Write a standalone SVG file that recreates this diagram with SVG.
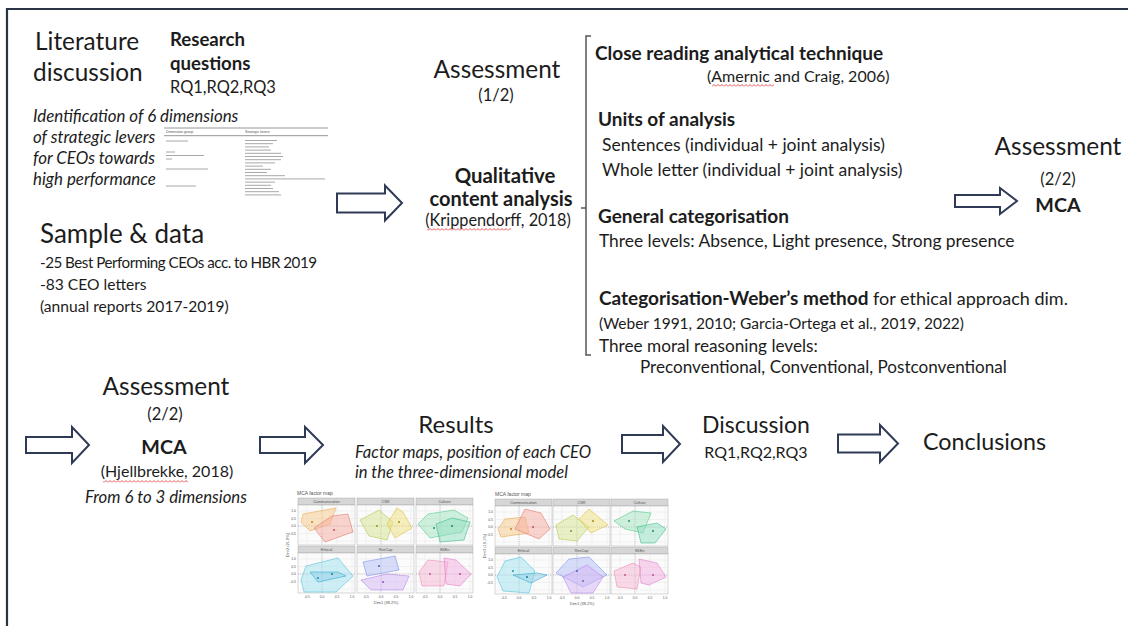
<svg xmlns="http://www.w3.org/2000/svg" width="1128" height="626" viewBox="0 0 1128 626">
<style>
.t{font-family:Lato,"Liberation Sans",sans-serif;fill:#1c1c1c}
.b{font-weight:bold}
.i{font-style:italic}
.m{text-anchor:middle}
.arr{fill:#fff;stroke:#2f3a56;stroke-width:2;stroke-linejoin:miter}
.sm{font-family:"Liberation Sans",Arial,sans-serif;fill:#555}
.pg{fill-opacity:.5;stroke-width:.5}
.co1{fill:#f7c98a;stroke:#e99c3c}.co2{fill:#f5a9a0;stroke:#e3675f}
.cs1{fill:#d6e38e;stroke:#a9bf3c}.cs2{fill:#f0df7c;stroke:#d4b82c}
.cu1{fill:#9fe4bb;stroke:#3fc27f}.cu2{fill:#8fe0c2;stroke:#22b27a}
.et1{fill:#a2e2f1;stroke:#38b9d8}.et2{fill:#8fcfe8;stroke:#1f9cc4}
.rc1{fill:#b4c0f6;stroke:#6a80e6}.rc2{fill:#d5b6f5;stroke:#aa74e6}
.sk1{fill:#f6b5d2;stroke:#e97aac}.sk2{fill:#f3addf;stroke:#dc6cc4}
</style>
<defs>
<pattern id="sq" width="4" height="3" patternUnits="userSpaceOnUse"><path d="M0,2.5 L2,0.5 L4,2.5" fill="none" stroke="#e02828" stroke-width="0.8"/></pattern>
<g id="pnl">
<rect x="0" y="0" width="57" height="7" fill="#d6d6d6" stroke="#a0a0a0" stroke-width=".4"/>
<rect x="0" y="7" width="57" height="40" fill="#fbfbfb" stroke="#a0a0a0" stroke-width=".4"/>
<path d="M9,7V47M39,7V47M54,7V47M0,13H57M0,20.5H57M0,35.5H57M0,43H57" stroke="#e4e4e4" stroke-width=".4"/>
<path d="M24,7V47M0,28H57" stroke="#666" stroke-width=".4" stroke-dasharray="1.2 1"/>
</g>
</defs>
<rect width="1128" height="626" fill="#fff"/>
<path d="M7,626V9H1128" fill="none" stroke="#2b3447" stroke-width="2.2"/>

<g id="literature">
<text class="t" x="35" y="50" font-size="24.4">Literature</text>
<text class="t" x="33" y="81" font-size="24.4">discussion</text>
</g>

<g id="research-questions">
<text class="t b" x="170" y="46" font-size="18.6">Research</text>
<text class="t b" x="170" y="70" font-size="18.6">questions</text>
<text class="t" x="170" y="93" font-size="16.4">RQ1,RQ2,RQ3</text>
</g>

<g id="dimensions">
<text class="t i" font-size="16.9"><tspan x="33" y="122">Identification of 6 dimensions</tspan><tspan x="33" y="143">of strategic levers</tspan><tspan x="33" y="164">for CEOs towards</tspan><tspan x="33" y="185">high performance</tspan></text>
<g id="lever-table">
<path d="M164,128H328M164,135.7H328" stroke="#8a8a8a" stroke-width=".9"/>
<text class="sm" x="166" y="133.3" font-size="3.6">Dimension group</text>
<text class="sm" x="245" y="133.3" font-size="3.6">Strategic levers</text>
<path d="M166,141h22M166,152h9M166,155.5h38M166,159h6M166,169h42M166,186h30" stroke="#a8a8a8" stroke-width="1"/>
<path d="M245,140.5h32M245,143.7h28M245,146.9h24M245,150.1h26M245,153.3h36M245,156.5h38M245,159.7h36M245,162.9h30M245,166.1h18M245,169.3h26M245,172.5h22M245,175.7h40M245,178.9h80M245,182.1h30M245,185.3h26M245,188.5h28M245,191.7h34M245,194.9h36" stroke="#a8a8a8" stroke-width="1"/>
</g>
</g>

<g id="sample-data">
<text class="t" x="40" y="243" font-size="26">Sample &amp; data</text>
<text class="t" x="40" y="268" font-size="15.2" textLength="277" lengthAdjust="spacing">-25 Best Performing CEOs acc. to HBR 2019</text>
<text class="t" font-size="15.6"><tspan x="40" y="290">-83 CEO letters</tspan><tspan x="40" y="312">(annual reports 2017-2019)</tspan></text>
</g>

<g id="assessment-1">
<text class="t m" x="497" y="78" font-size="24.4">Assessment</text>
<text class="t m" x="496" y="101" font-size="16.5">(1/2)</text>
<text class="t b m" x="505" y="183" font-size="20.4">Qualitative</text>
<text class="t b m" x="501" y="206" font-size="20">content analysis</text>
<text class="t m" x="498" y="226" font-size="16.3">(Krippendorff, 2018)</text>
<rect x="427" y="228" width="84" height="3" fill="url(#sq)"/>
</g>

<g id="method">
<path d="M591,36H586V355H591M586,208H581" fill="none" stroke="#555" stroke-width="1.5"/>
<text class="t b" x="595" y="60" font-size="19">Close reading analytical technique</text>
<text class="t" x="707" y="82" font-size="16">(Amernic and Craig, 2006)</text>
<rect x="712" y="84" width="62" height="3" fill="url(#sq)"/>
<text class="t b" x="598" y="126" font-size="19">Units of analysis</text>
<text class="t" font-size="17.5"><tspan x="602" y="151">Sentences (individual + joint analysis)</tspan><tspan x="602" y="176">Whole letter (individual + joint analysis)</tspan></text>
<text class="t b" x="598" y="223" font-size="19">General categorisation</text>
<text class="t" x="599" y="247" font-size="17.4">Three levels: Absence, Light presence, Strong presence</text>
<text class="t" x="599" y="305" font-size="18"><tspan class="b" font-size="19">Categorisation-Weber’s method</tspan> for ethical approach dim.</text>
<text class="t" x="599" y="329" font-size="15.5">(Weber 1991, 2010; Garcia-Ortega et al., 2019, 2022)</text>
<text class="t" x="599" y="352" font-size="17.2">Three moral reasoning levels:</text>
<text class="t" x="640" y="373" font-size="17.1">Preconventional, Conventional, Postconventional</text>
</g>

<g id="assessment-2-top">
<text class="t m" x="1058" y="155" font-size="24.4">Assessment</text>
<text class="t m" x="1058" y="185" font-size="16.5">(2/2)</text>
<text class="t b m" x="1058" y="212" font-size="19.7">MCA</text>
</g>

<g id="assessment-2-bottom">
<text class="t m" x="166" y="395" font-size="24.4">Assessment</text>
<text class="t m" x="165" y="420" font-size="16.5">(2/2)</text>
<text class="t b m" x="164" y="454" font-size="19.7">MCA</text>
<text class="t m" x="167" y="477" font-size="16">(Hjellbrekke, 2018)</text>
<rect x="103" y="480" width="85" height="3" fill="url(#sq)"/>
<text class="t i m" x="166" y="503" font-size="16.8">From 6 to 3 dimensions</text>
</g>

<g id="results">
<text class="t m" x="456" y="433" font-size="24">Results</text>
<text class="t i" font-size="16.6"><tspan x="355" y="458">Factor maps, position of each CEO</tspan><tspan x="355" y="478">in the three-dimensional model</tspan></text>
<g id="factor-map-1">
<text class="sm" x="297" y="495" font-size="5" fill="#333">MCA factor map</text>
<use href="#pnl" x="298" y="498"/><use href="#pnl" x="357" y="498"/><use href="#pnl" x="416" y="498"/>
<use href="#pnl" x="298" y="546"/><use href="#pnl" x="357" y="546"/><use href="#pnl" x="416" y="546"/>
<g class="sm" font-size="3.8" text-anchor="middle">
<text x="326.5" y="503.3">Communication</text><text x="385.5" y="503.3">CSR</text><text x="444.5" y="503.3">Culture</text>
<text x="326.5" y="551.3">Ethical</text><text x="385.5" y="551.3">ResCap</text><text x="444.5" y="551.3">SKEn</text>
</g>
<g transform="translate(298,498)"><polygon class="pg co1" points="3,24 5,16 38,10 32,26 12,33"/><polygon class="pg co2" points="16,30 34,18 50,16 55,34 27,44"/><circle cx="14" cy="24" r="1" fill="#c77b1e"/><circle cx="36" cy="32" r="1" fill="#c94a42"/></g>
<g transform="translate(357,498)"><polygon class="pg cs1" points="3,22 22,12 36,24 30,42 12,38"/><polygon class="pg cs2" points="30,26 40,10 46,14 55,30 38,40"/><circle cx="20" cy="28" r="1" fill="#7f9422"/><circle cx="42" cy="24" r="1" fill="#a48a12"/></g>
<g transform="translate(416,498)"><polygon class="pg cu1" points="2,26 12,16 38,12 52,20 46,34 14,40"/><polygon class="pg cu2" points="20,26 36,20 54,24 48,42 24,44"/><circle cx="18" cy="30" r="1" fill="#1f9a5a"/><circle cx="36" cy="28" r="1" fill="#128a5a"/></g>
<g transform="translate(298,546)"><polygon class="pg et1" points="3,34 8,20 40,12 55,30 38,46 6,46"/><polygon class="pg et2" points="12,26 40,26 48,30 20,36"/><circle cx="20" cy="32" r="1" fill="#1890b0"/><circle cx="34" cy="28" r="1" fill="#14789c"/></g>
<g transform="translate(357,546)"><polygon class="pg rc1" points="6,16 38,10 42,24 10,30"/><polygon class="pg rc2" points="4,34 30,28 52,30 46,44 14,44"/><circle cx="22" cy="20" r="1" fill="#4a5fc6"/><circle cx="26" cy="36" r="1" fill="#8a50c6"/></g>
<g transform="translate(416,546)"><polygon class="pg sk1" points="3,26 12,14 32,16 28,40 6,40"/><polygon class="pg sk2" points="28,12 40,14 55,28 44,40 30,38"/><circle cx="14" cy="28" r="1" fill="#c9508a"/><circle cx="44" cy="28" r="1" fill="#b8449e"/></g>
<g class="sm" font-size="3.5" text-anchor="end">
<text x="296" y="512.3">1.0</text><text x="296" y="519.8">0.5</text><text x="296" y="527.3">0.0</text><text x="296" y="534.8">-0.5</text>
<text x="296" y="560.3">1.0</text><text x="296" y="567.8">0.5</text><text x="296" y="575.3">0.0</text><text x="296" y="582.8">-0.5</text>
</g>
<g class="sm" font-size="3.3" text-anchor="middle">
<text x="307" y="597.5">-0.5</text><text x="322" y="597.5">0.0</text><text x="337" y="597.5">0.5</text><text x="352" y="597.5">1.0</text>
<text x="366" y="597.5">-0.5</text><text x="381" y="597.5">0.0</text><text x="396" y="597.5">0.5</text><text x="411" y="597.5">1.0</text>
<text x="425" y="597.5">-0.5</text><text x="440" y="597.5">0.0</text><text x="455" y="597.5">0.5</text><text x="470" y="597.5">1.0</text>
</g>
<text class="sm" x="386" y="603.5" font-size="4" text-anchor="middle">Dim1 (38.2%)</text>
<text class="sm" font-size="4" text-anchor="middle" transform="translate(289,545) rotate(-90)">Dim2 (21.9%)</text>
</g>
<g id="factor-map-2">
<text class="sm" x="495" y="496" font-size="5" fill="#333">MCA factor map</text>
<use href="#pnl" x="495" y="499"/><use href="#pnl" x="553" y="499"/><use href="#pnl" x="611" y="499"/>
<use href="#pnl" x="495" y="547"/><use href="#pnl" x="553" y="547"/><use href="#pnl" x="611" y="547"/>
<g class="sm" font-size="3.8" text-anchor="middle">
<text x="523.5" y="504.3">Communication</text><text x="581.5" y="504.3">CSR</text><text x="639.5" y="504.3">Culture</text>
<text x="523.5" y="552.3">Ethical</text><text x="581.5" y="552.3">ResCap</text><text x="639.5" y="552.3">SKEn</text>
</g>
<g transform="translate(495,499)"><polygon class="pg co1" points="3,30 10,20 30,18 34,34 6,38"/><polygon class="pg co2" points="20,30 30,10 46,14 55,30 44,40"/><circle cx="16" cy="30" r="1" fill="#c77b1e"/><circle cx="38" cy="28" r="1" fill="#c94a42"/></g>
<g transform="translate(553,499)"><polygon class="pg cs1" points="3,26 20,16 36,28 24,42 6,40"/><polygon class="pg cs2" points="26,20 36,10 55,26 38,34"/><circle cx="18" cy="32" r="1" fill="#7f9422"/><circle cx="40" cy="22" r="1" fill="#a48a12"/></g>
<g transform="translate(611,499)"><polygon class="pg cu1" points="3,22 22,12 40,14 32,34 14,30"/><polygon class="pg cu2" points="26,28 46,24 55,30 44,44 30,44"/><circle cx="18" cy="22" r="1" fill="#1f9a5a"/><circle cx="42" cy="32" r="1" fill="#128a5a"/></g>
<g transform="translate(495,547)"><polygon class="pg et1" points="2,30 10,14 26,10 40,24 34,46 8,44"/><polygon class="pg et2" points="18,28 42,26 52,28 36,36"/><circle cx="18" cy="24" r="1" fill="#1890b0"/><circle cx="32" cy="30" r="1" fill="#14789c"/></g>
<g transform="translate(553,547)"><polygon class="pg rc1" points="3,26 16,12 36,10 54,28 30,40"/><polygon class="pg rc2" points="10,30 34,18 50,30 40,46 18,46"/><circle cx="24" cy="24" r="1" fill="#4a5fc6"/><circle cx="30" cy="34" r="1" fill="#8a50c6"/></g>
<g transform="translate(611,547)"><polygon class="pg sk1" points="3,24 22,16 30,20 26,42 6,40"/><polygon class="pg sk2" points="28,12 46,16 55,30 38,38 30,36"/><circle cx="14" cy="28" r="1" fill="#c9508a"/><circle cx="42" cy="28" r="1" fill="#b8449e"/></g>
<g class="sm" font-size="3.5" text-anchor="end">
<text x="493" y="513.3">1.0</text><text x="493" y="520.8">0.5</text><text x="493" y="528.3">0.0</text><text x="493" y="535.8">-0.5</text>
<text x="493" y="561.3">1.0</text><text x="493" y="568.8">0.5</text><text x="493" y="576.3">0.0</text><text x="493" y="583.8">-0.5</text>
</g>
<g class="sm" font-size="3.3" text-anchor="middle">
<text x="504" y="598.5">-0.5</text><text x="519" y="598.5">0.0</text><text x="534" y="598.5">0.5</text><text x="549" y="598.5">1.0</text>
<text x="562" y="598.5">-0.5</text><text x="577" y="598.5">0.0</text><text x="592" y="598.5">0.5</text><text x="607" y="598.5">1.0</text>
<text x="620" y="598.5">-0.5</text><text x="635" y="598.5">0.0</text><text x="650" y="598.5">0.5</text><text x="665" y="598.5">1.0</text>
</g>
<text class="sm" x="582" y="604.5" font-size="4" text-anchor="middle">Dim1 (38.2%)</text>
<text class="sm" font-size="4" text-anchor="middle" transform="translate(486,546) rotate(-90)">Dim3 (19.1%)</text>
</g>
</g>

<g id="discussion">
<text class="t m" x="756" y="433" font-size="23">Discussion</text>
<text class="t m" x="756" y="458" font-size="16">RQ1,RQ2,RQ3</text>
</g>

<g id="conclusions">
<text class="t" x="923" y="450" font-size="23.3">Conclusions</text>
</g>

<g id="connectors">
<path class="arr" d="M337,193.5H385V185.5L402,203L385,220.5V212.5H337Z"/>
<path class="arr" d="M955,195H1000V188L1017,201L1000,214V207H955Z"/>
<path class="arr" d="M26,437H72V427L89,445L72,463V453H26Z"/>
<path class="arr" d="M260,437H305V427L323,445L305,463V453H260Z"/>
<path class="arr" d="M622,435H663V426L680,444L663,462V453H622Z"/>
<path class="arr" d="M838,434.5H880V425L898,443.5L880,462V452.5H838Z"/>
</g>
</svg>
